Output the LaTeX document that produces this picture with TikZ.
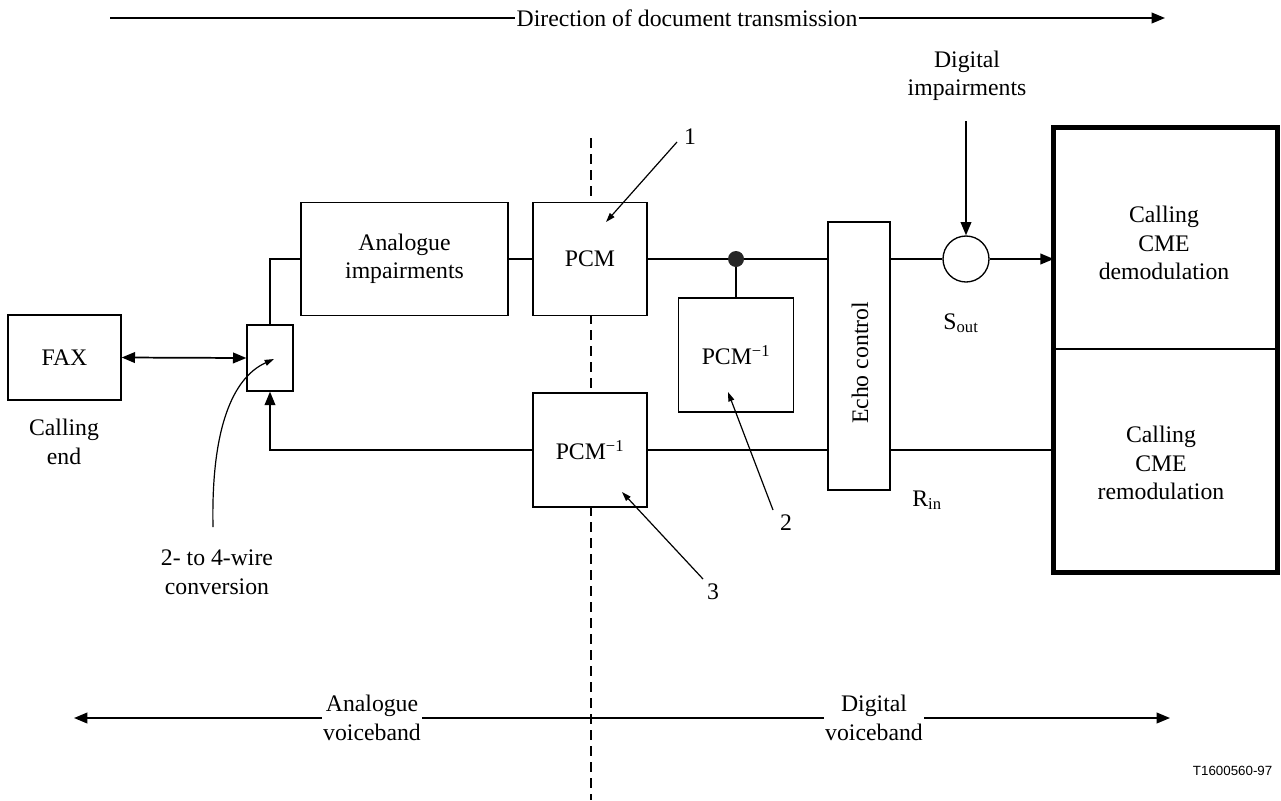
\documentclass[tikz,border=0pt]{standalone}
\usepackage{fontspec}
\setmainfont{Liberation Serif}
\newfontfamily\figsans{Liberation Sans}
\usetikzlibrary{arrows.meta,calc}
\newlength\px \setlength\px{0.75pt}
\begin{document}
\begin{tikzpicture}[x=0.75pt,y=-0.75pt,
  every node/.style={font=\fontsize{17.8}{21.4}\selectfont, align=center},
  box/.style={draw, line width=1pt, fill=white, inner sep=0pt},
  wire/.style={line width=1.3pt},
  sig/.style={-{Triangle[length=10pt,width=8pt]}},
  annot/.style={line width=0.9pt, -{Triangle[length=7pt,width=4.5pt]}},
  label/.style={inner sep=1pt}]
\useasboundingbox (0,0) rectangle (1281,800);
% dashed boundary
\coordinate (dashtop) at (591,138);
\coordinate (dashbot) at (591,800);
\draw[line width=1.3pt, dash pattern=on 10\px off 6\px] (dashtop) -- (dashbot);
% boxes
\node[box, minimum width=113\px, minimum height=85\px] (fax) at (64.5,357.5) {FAX};
\node (callend) at (64,442) {Calling\\end};
\node[box, minimum width=46\px, minimum height=66\px] (conv) at (270,358) {};
\node[box, minimum width=207\px, minimum height=113\px] (ana) at (404.5,259) {Analogue\\impairments};
\node[box, minimum width=114\px, minimum height=113\px] (pcm) at (590,259) {PCM};
\node[box, minimum width=115\px, minimum height=114\px] (pcmb) at (736,355) {PCM\textsuperscript{−1}};
\node[box, minimum width=114\px, minimum height=114\px] (pcmc) at (590,450) {PCM\textsuperscript{−1}};
\node[box, minimum width=62\px, minimum height=268\px] (echo) at (859,356) {};
\node[rotate=90] (echotxt) at (860,363) {Echo control};
\node[circle, draw, line width=1pt, minimum size=46\px, inner sep=0pt] (sum) at (966,259) {};
\node (sout) at (961,323) {S\textsubscript{out}};
\node (rin) at (927,500) {R\textsubscript{in}};
\node[minimum width=223.5\px, minimum height=221.5\px, inner sep=0pt] (dem) at (1165.75,238.25) {};
\node[minimum width=223.5\px, minimum height=223.5\px, inner sep=0pt] (rem) at (1165.75,460.75) {};
\node (demtxt) at (1164,243) {Calling\\CME\\demodulation};
\node (remtxt) at (1161,463) {Calling\\CME\\remodulation};
\draw[line width=3.75pt] (dem.north west) rectangle (rem.south east);
\draw[line width=1.5pt] (dem.south west) -- (dem.south east);
% top direction arrow
\node[label] (title) at (687,18) {Direction of document transmission};
\coordinate (tl) at (110,18);
\coordinate (tr) at (1165,18);
\draw[wire] (tl) -- (title.west);
\draw[wire, sig] (title.east) -- (tr);
% digital impairments
\node (digimp) at (967,76) {Digital\\impairments};
\coordinate (dtail) at (966,121);
\draw[wire, sig] (dtail) -- (sum.north);
% wires
\draw[wire, {Triangle[length=10pt,width=8pt]}-{Triangle[length=10pt,width=8pt]}] (fax.east) -- (conv.west);
\draw[wire] (conv.north) |- (ana.west);
\draw[wire] (ana.east) -- (pcm.west);
\draw[wire] (pcm.east) -- (echo.west |- pcm.east);
\node[circle, fill=black!85, minimum size=16\px, inner sep=0pt] (dot) at (736,259) {};
\draw[wire] (dot.south) -- (pcmb.north);
\draw[wire] (echo.east |- sum.west) -- (sum.west);
\draw[wire, sig] (sum.east) -- (sum.east -| dem.west);
\draw[wire] (rem.west |- pcmc.east) -- (echo.east |- pcmc.east);
\draw[line width=1pt] (echo.west |- pcmc.east) -- (pcmc.east);
\draw[line width=1pt, sig] (pcmc.west) -| (conv.south);
% annotation arrows
\node (n1) at (690,137) {1};
\coordinate (a1t) at (677,142);
\coordinate (a1h) at (606,222);
\draw[annot] (a1t) -- (a1h);
\node (n2) at (786,523) {2};
\coordinate (a2t) at (773,510);
\coordinate (a2h) at (728,392);
\draw[annot] (a2t) -- (a2h);
\node (n3) at (713,592) {3};
\coordinate (a3t) at (703,579);
\coordinate (a3h) at (622,492);
\draw[annot] (a3t) -- (a3h);
\node (convtxt) at (217,572) {2- to 4-wire\\conversion};
\coordinate (ct) at (213,527);
\coordinate (ch) at (274,359);
\draw[annot] (ct) .. controls (211,430) and (232,378) .. (ch);
% bottom arrows
\coordinate (bl) at (74,718);
\coordinate (br) at (1170,718);
\node[label] (anv) at (372,718) {Analogue\\voiceband};
\node[label] (digv) at (874,718) {Digital\\voiceband};
\draw[wire, sig] (anv.west) -- (bl);
\draw[wire] (anv.east) -- (digv.west);
\draw[wire, sig] (digv.east) -- (br);
% figure code
\node[font=\figsans\fontsize{10}{12}\selectfont, anchor=east] (code) at (1277,771) {T1600560-97};
\end{tikzpicture}
\end{document}
